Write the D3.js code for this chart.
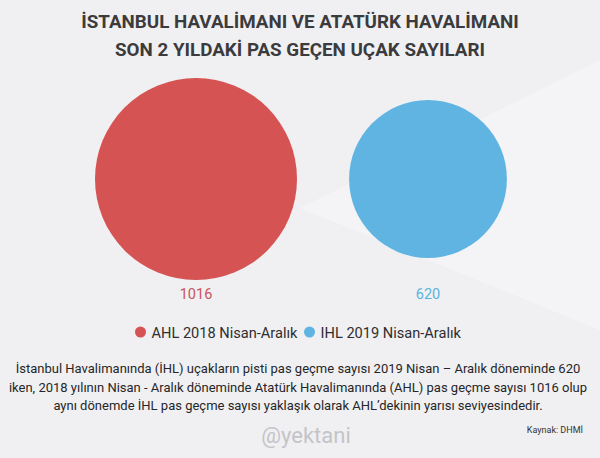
<!DOCTYPE html>
<html>
<head>
<meta charset="utf-8">
<script src="https://cdn.jsdelivr.net/npm/d3@7"></script>
<style>
  html, body { margin: 0; padding: 0; background: #f0f0f2; }
  svg { display: block; font-family: Roboto, "Noto Sans", sans-serif; }
</style>
</head>
<body>
<div id="chart"></div>
<script>
// data
const categories = ["AHL 2018 Nisan-Aralık", "IHL 2019 Nisan-Aralık"];
const counts = [1016, 620];
const colors = ["#d65354", "#5fb4e1"];
const labelColors = ["#c9545b", "#5ab3df"];

const titleLines = [
    "İSTANBUL HAVALİMANI VE ATATÜRK HAVALİMANI",
    "SON 2 YILDAKİ PAS GEÇEN UÇAK SAYILARI"
];
const noteLines = [
    "İstanbul Havalimanında (İHL) uçakların pisti pas geçme sayısı 2019 Nisan – Aralık döneminde 620",
    "iken, 2018 yılının Nisan - Aralık döneminde Atatürk Havalimanında (AHL) pas geçme sayısı 1016 olup",
    "aynı dönemde İHL pas geçme sayısı yaklaşık olarak AHL’dekinin yarısı seviyesindedir."
];
const sourceText = "Kaynak: DHMİ";
const watermark = "@yektani";

function drawChart() {

    const dimensions = { width: 600, height: 458 };

    const chart = d3.select("#chart")
        .append("svg")
        .attr("width", dimensions.width)
        .attr("height", dimensions.height);

    // background with a faint lighter wedge
    chart.append("rect")
        .attr("width", dimensions.width)
        .attr("height", dimensions.height)
        .attr("fill", "#f0f0f2");

    chart.append("path")
        .attr("d", "M300,208 L600,60 L600,330 Z")
        .attr("fill", "#f5f5f7")
        .attr("opacity", 0.8);

    // title
    chart.append("g")
        .selectAll("text")
        .data(titleLines)
        .join("text")
        .attr("x", dimensions.width / 2)
        .attr("y", (d, i) => 28 + i * 28)
        .attr("text-anchor", "middle")
        .style("font-size", "18.8px")
        .style("font-weight", "bold")
        .style("fill", "#3b3b3d")
        .text(d => d);

    // scales
    const xScale = d3.scalePoint()
        .domain(categories)
        .range([196, 428]);

    const rScale = d3.scaleSqrt()
        .domain([0, d3.max(counts)])
        .range([0, 101]);

    const cy = 179;

    const rows = categories.map((c, i) => ({ cat: c, value: counts[i], color: colors[i], label: labelColors[i] }));

    chart.append("g")
        .selectAll("circle")
        .data(rows)
        .join("circle")
        .attr("cx", d => xScale(d.cat))
        .attr("cy", cy)
        .attr("r", d => rScale(d.value))
        .attr("fill", d => d.color);

    chart.append("g")
        .selectAll("text")
        .data(rows)
        .join("text")
        .attr("x", d => xScale(d.cat))
        .attr("y", 299)
        .attr("text-anchor", "middle")
        .style("font-size", "14.5px")
        .style("fill", d => d.label)
        .text(d => d.value);

    // legend
    const legend = chart.append("g");
    const items = legend.selectAll("g")
        .data(rows)
        .join("g");

    items.append("circle")
        .attr("r", 5.5)
        .attr("cy", 0)
        .attr("fill", d => d.color);

    items.append("text")
        .attr("x", 11)
        .attr("y", 5.5)
        .style("font-size", "14.6px")
        .style("fill", "#2e2e30")
        .text(d => d.cat);

    let offset = 0;
    const gap = 12;
    items.each(function() {
        const w = d3.select(this).select("text").node().getComputedTextLength() + 11;
        d3.select(this).attr("transform", `translate(${offset}, 0)`);
        offset += w + gap;
    });
    const legendWidth = offset - gap + 5.5;
    legend.attr("transform", `translate(${298 - legendWidth / 2 + 5.5}, 332)`);

    // note text
    chart.append("g")
        .selectAll("text")
        .data(noteLines)
        .join("text")
        .attr("x", dimensions.width / 2 - 2)
        .attr("y", (d, i) => 373 + i * 18.5)
        .attr("text-anchor", "middle")
        .style("font-size", "13px")
        .style("fill", "#262628")
        .text(d => d);

    // watermark
    chart.append("text")
        .attr("x", 306)
        .attr("y", 443)
        .attr("text-anchor", "middle")
        .style("font-size", "22px")
        .style("fill", "#c4c4c8")
        .text(watermark);

    // source
    chart.append("text")
        .attr("x", 583)
        .attr("y", 433)
        .attr("text-anchor", "end")
        .style("font-size", "9px")
        .style("fill", "#333")
        .text(sourceText);
}

drawChart();
</script>
</body>
</html>
